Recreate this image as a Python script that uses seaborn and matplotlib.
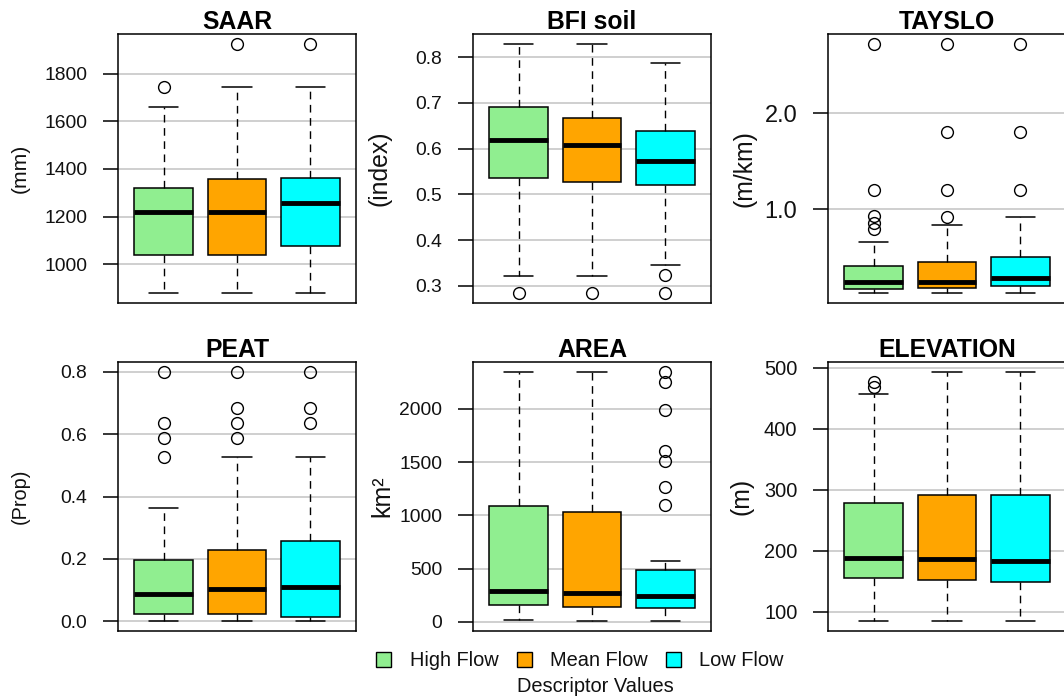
import matplotlib
matplotlib.use("Agg")
import matplotlib.pyplot as plt
import seaborn as sns
from matplotlib.patches import Patch

# ---------------- data ----------------
groups = ["High Flow", "Mean Flow", "Low Flow"]
colors = ["#90EE90", "#FFA500", "#00FFFF"]

# per group: [whisker low, Q1, median, Q3, whisker high]
saar_stats = [[878, 1039, 1220, 1319, 1662],
              [878, 1039, 1220, 1358, 1744],
              [878, 1075, 1255, 1362, 1744]]
saar_out = [[1744], [1926], [1926]]

bfi_stats = [[0.322, 0.535, 0.619, 0.690, 0.829],
             [0.322, 0.527, 0.608, 0.668, 0.829],
             [0.346, 0.521, 0.574, 0.639, 0.787]]
bfi_out = [[0.284], [0.284], [0.323, 0.284]]

tayslo_stats = [[0.125, 0.17, 0.24, 0.41, 0.66],
                [0.125, 0.18, 0.24, 0.445, 0.83],
                [0.125, 0.20, 0.28, 0.50, 0.917]]
tayslo_out = [[2.72, 1.2, 0.93, 0.85, 0.79],
              [2.72, 1.80, 1.2, 0.92],
              [2.72, 1.80, 1.2]]

peat_stats = [[0.0, 0.022, 0.086, 0.196, 0.364],
              [0.0, 0.022, 0.102, 0.228, 0.528],
              [0.0, 0.014, 0.108, 0.258, 0.528]]
peat_out = [[0.80, 0.637, 0.589, 0.528],
            [0.80, 0.684, 0.637, 0.589],
            [0.80, 0.684, 0.637]]

area_stats = [[19, 158, 287, 1090, 2345],
              [9, 142, 271, 1033, 2345],
              [9, 130, 246, 489, 570]]
area_out = [[], [], [2345, 2252, 1987, 1600, 1506, 1270, 1096]]

elev_stats = [[85, 155, 188, 279, 457],
              [85, 153, 186, 291, 493],
              [85, 149, 183, 291, 493]]
elev_out = [[476, 468], [], []]

titles = ["SAAR", "BFI soil", "TAYSLO", "PEAT", "AREA", "ELEVATION"]
ylabels = ["(mm)", "(index)", "(m/km)", "(Prop)", "km\u00b2", "(m)"]
yticks = [[1000, 1200, 1400, 1600, 1800],
          [0.3, 0.4, 0.5, 0.6, 0.7, 0.8],
          [1.0, 2.0],
          [0.0, 0.2, 0.4, 0.6, 0.8],
          [0, 500, 1000, 1500, 2000],
          [100, 200, 300, 400, 500]]
ytickfmt = ["{:.0f}", "{:.1f}", "{:.1f}", "{:.1f}", "{:.0f}", "{:.0f}"]
legend_title = "Descriptor Values"

panels_stats = [saar_stats, bfi_stats, tayslo_stats, peat_stats, area_stats, elev_stats]
panels_out = [saar_out, bfi_out, tayslo_out, peat_out, area_out, elev_out]

# ---------------- style ----------------
sns.set_theme(style="white")
plt.rcParams["font.family"] = ["Liberation Sans", "DejaVu Sans"]

W, H = 1064, 700
fig = plt.figure(figsize=(W / 100, H / 100), dpi=100)

# layout in pixels: (left, top) of each panel
lefts = [118, 473, 828]
tops = [34, 362]
pw, ph = 238, 269

tick_sizes = [13.9, 13.9, 17.0, 13.9, 13.9, 14.4]
label_sizes = [15.2, 17.8, 17.8, 14.3, 18.0, 17.8]
label_x = [-0.41, -0.393, -0.35, -0.41, -0.38, -0.364]

for i in range(6):
    r, c = divmod(i, 3)
    l, t = lefts[c], tops[r]
    ax = fig.add_axes([l / W, 1 - (t + ph) / H, pw / W, ph / H])
    stats = []
    for g in range(3):
        wl, q1, md, q3, wh = panels_stats[i][g]
        stats.append(dict(whislo=wl, q1=q1, med=md, q3=q3, whishi=wh,
                          fliers=panels_out[i][g], label=groups[g]))
    bp = ax.bxp(stats, positions=[1, 2, 3], widths=0.8, capwidths=0.4,
                patch_artist=True, showfliers=True,
                boxprops=dict(edgecolor="black", linewidth=1.1),
                medianprops=dict(color="black", linewidth=3.5, solid_capstyle="butt"),
                whiskerprops=dict(color="black", linewidth=1.0, linestyle=(0, (5.5, 4))),
                capprops=dict(color="black", linewidth=1.1),
                flierprops=dict(marker="o", markerfacecolor="none",
                                markeredgecolor="black", markersize=8.5,
                                markeredgewidth=1.0, linestyle="none"),
                zorder=3)
    for patch, col in zip(bp["boxes"], colors):
        patch.set_facecolor(col)

    # R-style axis ranges: data range +/- 4 %
    vals = [v for s in panels_stats[i] for v in (s[0], s[4])]
    vals += [v for o in panels_out[i] for v in o]
    lo, hi = min(vals), max(vals)
    pad = 0.04 * (hi - lo)
    ax.set_ylim(lo - pad, hi + pad)
    ax.set_xlim(0.38, 3.62)

    ax.set_yticks(yticks[i])
    ax.set_yticklabels([ytickfmt[i].format(v) for v in yticks[i]])
    ax.set_xticks([])
    for v in yticks[i]:
        ax.axhline(v, color="#cccccc", linewidth=1.3, zorder=0)
    ax.tick_params(axis="y", direction="out", length=11, width=1.1,
                   color="black", labelsize=tick_sizes[i], pad=11,
                   left=True, labelcolor="#111111")
    for sp in ax.spines.values():
        sp.set_color("black")
        sp.set_linewidth(1.1)
        sp.set_visible(True)
    ax.set_facecolor("white")
    ax.grid(False)

    ax.text(0.5, 1 + 12 / ph, titles[i], transform=ax.transAxes,
            ha="center", va="center", fontsize=17.8, fontweight="bold",
            color="black")
    ax.text(label_x[i], 0.5, ylabels[i], transform=ax.transAxes,
            rotation=90, ha="center", va="center", fontsize=label_sizes[i],
            color="#111111")

handles = [Patch(facecolor=c, edgecolor="black", linewidth=1.0) for c in colors]
fig.legend(handles, groups, loc="center", bbox_to_anchor=(580 / W, 1 - 661 / H),
           ncol=3, frameon=False, fontsize=14.4, handlelength=0.75,
           handleheight=0.75, handletextpad=0.92, columnspacing=0.9,
           labelcolor="#111111")
fig.text(595 / W, 1 - 687 / H, legend_title, ha="center", va="center",
         fontsize=14.4, color="#111111")

fig.savefig("out.png", dpi=100, facecolor="white")
